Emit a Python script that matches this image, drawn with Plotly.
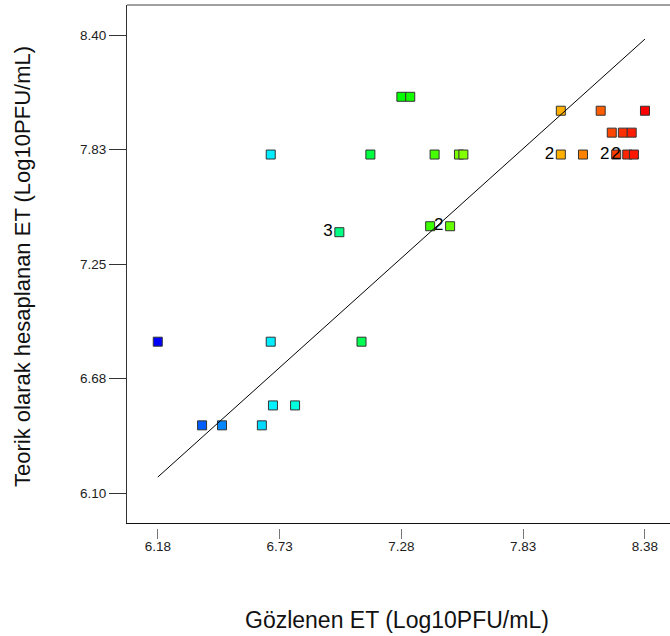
import plotly.graph_objects as go

# Observed (actual) vs model-predicted titres, one entry per design run
actual = [6.18, 6.38, 6.47, 6.65, 6.69, 6.70, 6.69, 6.80, 7.00, 7.10,
          7.14, 7.28, 7.32, 7.41, 7.43, 7.50, 7.54, 7.56, 8.00, 8.00,
          8.10, 8.18, 8.23, 8.28, 8.32, 8.25, 8.30, 8.33, 8.38]
predicted = [6.86, 6.44, 6.44, 6.44, 6.86, 6.54, 7.80, 6.54, 7.41, 6.86,
             7.80, 8.09, 8.09, 7.44, 7.80, 7.44, 7.80, 7.80, 8.02, 7.80,
             7.80, 8.02, 7.91, 7.91, 7.91, 7.80, 7.80, 7.80, 8.02]
# number of coincident runs at each point (labelled when > 1)
counts = [1, 1, 1, 1, 1, 1, 1, 1, 3, 1,
          1, 1, 1, 1, 1, 2, 1, 1, 1, 2,
          1, 1, 1, 1, 1, 2, 2, 1, 1]

x_ticks = [6.18, 6.73, 7.28, 7.83, 8.38]
x_tick_text = ["6.18", "6.73", "7.28", "7.83", "8.38"]
y_ticks = [6.10, 6.675, 7.25, 7.825, 8.40]
y_tick_text = ["6.10", "6.68", "7.25", "7.83", "8.40"]

x_title = "Gözlenen ET (Log10PFU/mL)"
y_title = "Teorik olarak hesaplanan ET (Log10PFU/mL)"

# reference line predicted = actual across the observed range
lo, hi = min(actual), max(actual)
line_x = [lo, hi]
line_y = [lo, hi]

W, H = 670, 636
ML, MT, MB = 127, 5, 76
plot_w = W - ML
plot_h = H - MT - MB
plot_bottom = H - MB
frame_bottom = 522.5   # bottom frame line (px)
tick_axis_px = 528     # where the x tick marks start (px)

def px_to_paper_x(px):
    return (px - ML) / plot_w

def px_to_paper_y(py):
    return (plot_bottom - py) / plot_h

FONT = "Liberation Sans, Arial, sans-serif"

rainbow = [[0.0, "#0000FF"], [0.25, "#00FFFF"], [0.5, "#00FF00"],
           [0.75, "#FFFF00"], [1.0, "#FF0000"]]

labels = [str(c) if c > 1 else "" for c in counts]

fig = go.Figure()
fig.add_trace(go.Scatter(
    x=actual, y=predicted, mode="markers+text",
    text=labels, textposition="middle left",
    textfont=dict(family=FONT, size=17, color="#000"),
    marker=dict(symbol="square", size=9, color=actual,
                colorscale=rainbow, cmin=lo, cmax=hi,
                line=dict(color="#333333", width=1)),
    hoverinfo="x+y", showlegend=False,
))
fig.add_trace(go.Scatter(
    x=line_x, y=line_y, mode="lines", xaxis="x2", yaxis="y",
    line=dict(color="#000", width=1), hoverinfo="skip", showlegend=False,
))

fig.update_layout(
    width=W, height=H,
    margin=dict(l=ML, r=0, t=MT, b=MB, pad=0),
    paper_bgcolor="white", plot_bgcolor="white",
    font=dict(family=FONT, color="#111"),
    xaxis=dict(
        domain=[0, 1], range=[6.041, 8.493], anchor="y",
        showline=True, linecolor="#111", linewidth=1,
        ticks="", showticklabels=False, showgrid=False, zeroline=False,
    ),
    xaxis2=dict(
        overlaying="x", matches="x", anchor="free",
        position=px_to_paper_y(tick_axis_px), side="bottom",
        ticks="outside", ticklen=10, tickwidth=1, tickcolor="#777",
        tickvals=x_ticks, ticktext=x_tick_text, ticklabelstandoff=-4,
        tickfont=dict(family=FONT, size=13.5, color="#222"),
        showline=False, showgrid=False, zeroline=False,
    ),
    yaxis=dict(
        domain=[px_to_paper_y(frame_bottom), 1], range=[5.952, 8.551],
        showline=True, linecolor="#333", linewidth=1,
        ticks="outside", ticklen=17, tickwidth=1, tickcolor="#333",
        tickvals=y_ticks, ticktext=y_tick_text,
        tickfont=dict(family=FONT, size=13.5, color="#222"),
        showgrid=False, zeroline=False,
    ),
    shapes=[dict(type="line", xref="paper", yref="paper",
                 x0=0, x1=1, y0=1, y1=1,
                 line=dict(color="#808080", width=1.5))],
    annotations=[
        dict(text=x_title, xref="paper", yref="paper",
             x=px_to_paper_x(397), y=px_to_paper_y(620),
             xanchor="center", yanchor="middle", showarrow=False,
             font=dict(family=FONT, size=23, color="#111")),
        dict(text=y_title, xref="paper", yref="paper",
             x=px_to_paper_x(22), y=px_to_paper_y(267),
             xanchor="center", yanchor="middle", showarrow=False,
             textangle=-90,
             font=dict(family=FONT, size=22, color="#111")),
    ],
)

fig.write_html("out.html")
